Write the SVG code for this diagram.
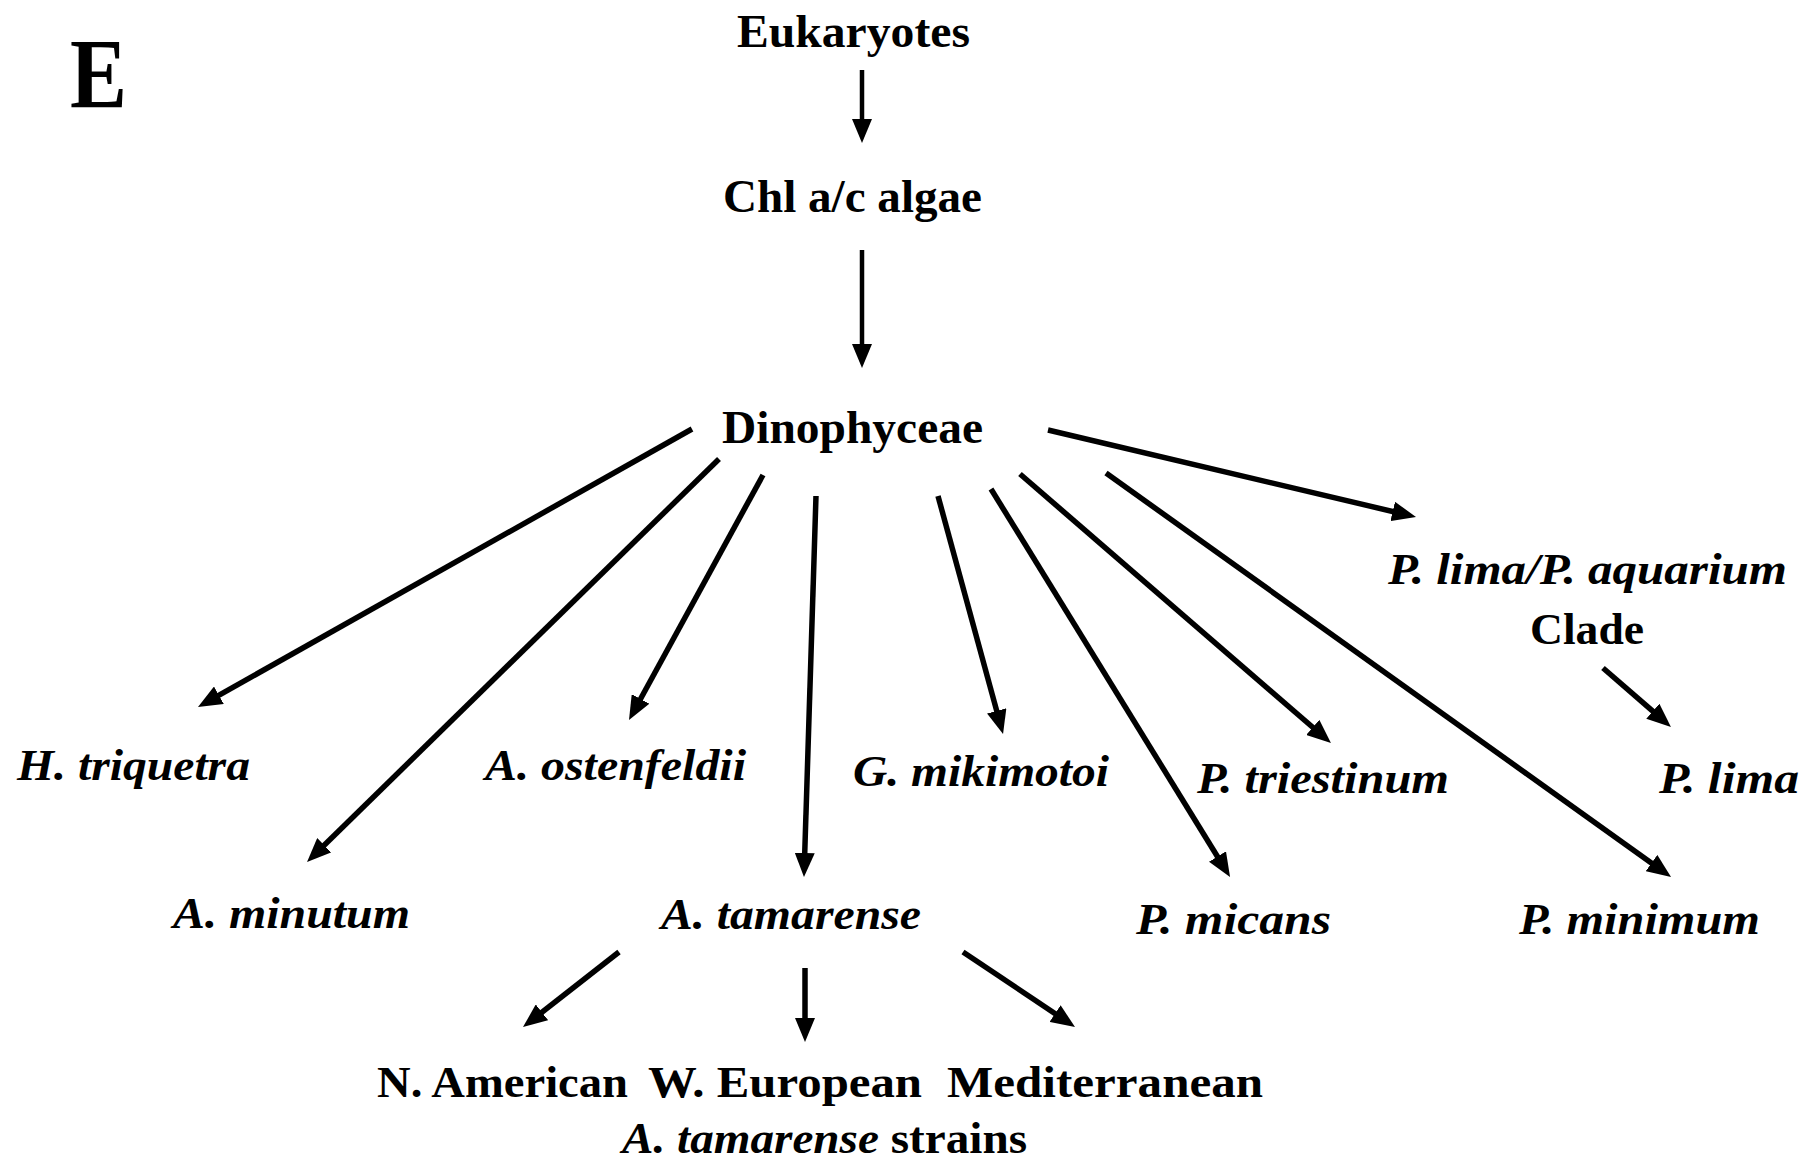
<svg xmlns="http://www.w3.org/2000/svg" width="1804" height="1161" viewBox="0 0 1804 1161">
<style>
  .t { font-family: "Liberation Serif", "Times New Roman", serif; font-weight: bold; fill: #000; }
  .i { font-style: italic; }
  .c line { stroke: #000; stroke-width: 5.5; marker-end: url(#ah); }
  .c line.thin { stroke-width: 4.5; }
</style>
<defs>
  <marker id="ah" markerUnits="userSpaceOnUse" markerWidth="24" markerHeight="20" refX="14" refY="10" orient="auto" viewBox="0 0 24 20">
    <path d="M0,0 L24,10 L0,20 z" fill="#000"/>
  </marker>
</defs>
<rect width="1804" height="1161" fill="#fff"/>

<g id="label-E"><text class="t" x="70" y="107" font-size="100" textLength="57" lengthAdjust="spacingAndGlyphs">E</text></g>

<g id="n-eukaryotes"><text class="t" x="737" y="47" font-size="47" textLength="233" lengthAdjust="spacingAndGlyphs">Eukaryotes</text></g>
<g id="n-chl"><text class="t" x="723" y="212" font-size="47" textLength="259" lengthAdjust="spacingAndGlyphs">Chl a/c algae</text></g>
<g id="n-dino"><text class="t" x="722" y="443" font-size="47" textLength="261" lengthAdjust="spacingAndGlyphs">Dinophyceae</text></g>

<g id="n-htriquetra"><text class="t i" x="17" y="780" font-size="45" textLength="233" lengthAdjust="spacingAndGlyphs">H. triquetra</text></g>
<g id="n-aostenfeldii"><text class="t i" x="485" y="780" font-size="45" textLength="261" lengthAdjust="spacingAndGlyphs">A. ostenfeldii</text></g>
<g id="n-gmikimotoi"><text class="t i" x="853" y="786" font-size="45" textLength="256" lengthAdjust="spacingAndGlyphs">G. mikimotoi</text></g>
<g id="n-ptriestinum"><text class="t i" x="1197" y="793" font-size="45" textLength="252" lengthAdjust="spacingAndGlyphs">P. triestinum</text></g>
<g id="n-plima"><text class="t i" x="1659" y="793" font-size="45" textLength="140" lengthAdjust="spacingAndGlyphs">P. lima</text></g>
<g id="n-plima-aquarium"><text class="t" x="1388" y="584" font-size="45" textLength="399" lengthAdjust="spacingAndGlyphs"><tspan class="i">P. lima/P. aquarium</tspan></text><text class="t" x="1530" y="644" font-size="45" textLength="114" lengthAdjust="spacingAndGlyphs">Clade</text></g>

<g id="n-aminutum"><text class="t i" x="173" y="928" font-size="45" textLength="237" lengthAdjust="spacingAndGlyphs">A. minutum</text></g>
<g id="n-atamarense"><text class="t i" x="661" y="929" font-size="45" textLength="260" lengthAdjust="spacingAndGlyphs">A. tamarense</text></g>
<g id="n-pmicans"><text class="t i" x="1136" y="934" font-size="45" textLength="195" lengthAdjust="spacingAndGlyphs">P. micans</text></g>
<g id="n-pminimum"><text class="t i" x="1519" y="934" font-size="45" textLength="241" lengthAdjust="spacingAndGlyphs">P. minimum</text></g>

<g id="n-namerican"><text class="t" x="377" y="1097" font-size="45" textLength="251" lengthAdjust="spacingAndGlyphs">N. American</text></g>
<g id="n-weuropean"><text class="t" x="648" y="1097" font-size="45" textLength="274" lengthAdjust="spacingAndGlyphs">W. European</text></g>
<g id="n-mediterranean"><text class="t" x="947" y="1097" font-size="45" textLength="316" lengthAdjust="spacingAndGlyphs">Mediterranean</text></g>
<g id="n-strains"><text class="t" x="622" y="1153" font-size="45" textLength="405" lengthAdjust="spacingAndGlyphs"><tspan class="i">A. tamarense</tspan> strains</text></g>

<g id="connectors" class="c">
  <line class="thin" x1="862" y1="70" x2="862" y2="133"/>
  <line class="thin" x1="862" y1="250" x2="862" y2="358"/>
  <line x1="692" y1="429" x2="206.7" y2="702.1"/>
  <line x1="719" y1="459" x2="314.2" y2="855"/>
  <line x1="763" y1="475" x2="633.8" y2="711.2"/>
  <line x1="816" y1="496" x2="804.3" y2="867"/>
  <line x1="938" y1="496" x2="1000.4" y2="724.4"/>
  <line x1="991" y1="489" x2="1224.8" y2="868.5"/>
  <line x1="1020" y1="474" x2="1323.4" y2="736.5"/>
  <line x1="1106" y1="473" x2="1662.9" y2="871.2"/>
  <line x1="1048" y1="430" x2="1406.3" y2="514.7"/>
  <line x1="1603" y1="668" x2="1663.4" y2="720.4"/>
  <line x1="619" y1="952" x2="530.9" y2="1020.9"/>
  <line x1="805" y1="968" x2="805" y2="1032"/>
  <line x1="963" y1="952" x2="1066.7" y2="1021.4"/>
</g>
</svg>
